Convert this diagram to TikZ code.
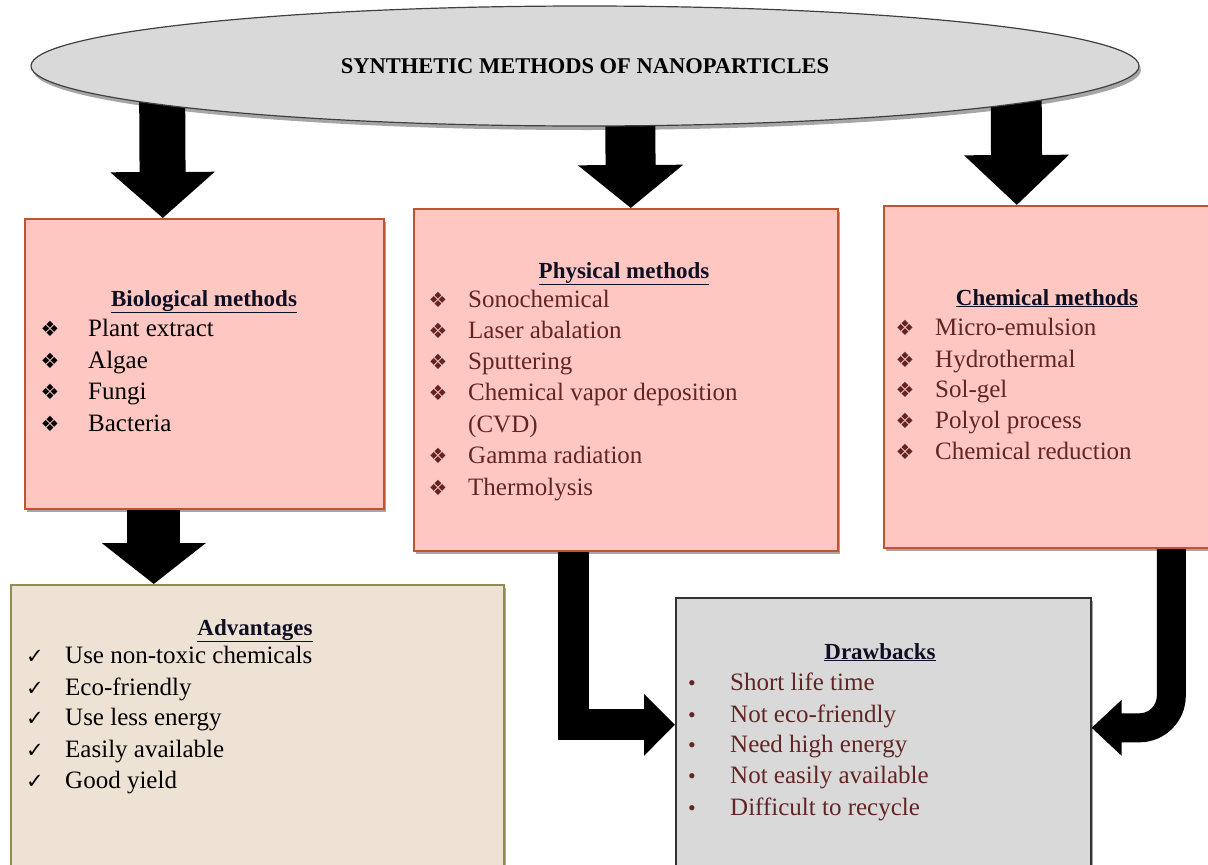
\documentclass[tikz,border=0pt]{standalone}
\usepackage{fontspec}
\setmainfont{Liberation Serif}
\newfontfamily\dejavu{DejaVu Sans}
\usetikzlibrary{shapes.geometric,arrows.meta,shadows}
\definecolor{pinkfill}{RGB}{255,199,194}
\definecolor{pinkline}{RGB}{192,84,50}
\definecolor{ellfill}{RGB}{217,217,217}
\definecolor{ellline}{RGB}{64,64,64}
\definecolor{advfill}{RGB}{238,226,212}
\definecolor{advline}{RGB}{148,138,84}
\definecolor{drwfill}{RGB}{217,217,217}
\definecolor{drwline}{RGB}{50,50,50}
\definecolor{txtbrown}{RGB}{99,37,35}
\definecolor{headcol}{RGB}{15,15,35}
\pgfdeclarelayer{bg}
\pgfsetlayers{bg,main}
\begin{document}
\begin{tikzpicture}[x=1pt,y=-1pt,
  box/.style={draw, line width=1.6pt, anchor=north west, inner sep=0pt,
    drop shadow={shadow xshift=2.5pt, shadow yshift=-3pt, opacity=0.35, fill=black}},
  pinkbox/.style={box, fill=pinkfill, draw=pinkline},
  itm/.style={anchor=base west, inner sep=0pt, font=\fontsize{25}{30}\selectfont},
  hd/.style={anchor=base, inner sep=0pt, text=headcol, font=\bfseries\fontsize{23}{28}\selectfont},
  diam/.style={anchor=base, inner sep=0pt, font=\dejavu\fontsize{21}{24}\selectfont},
  chk/.style={anchor=base, inner sep=0pt, font=\dejavu\fontsize{21}{24}\selectfont},
  dot/.style={anchor=base, inner sep=0pt, text=txtbrown, font=\fontsize{22}{24}\selectfont},
]
\useasboundingbox (0,0) rectangle (1208,865);

% main nodes
\node[ellipse, draw=ellline, fill=ellfill, line width=1.2pt, minimum width=1108pt, minimum height=120pt,
  drop shadow={shadow xshift=2pt, shadow yshift=-4pt, opacity=0.35, fill=black},
  font=\bfseries\fontsize{22.5}{26}\selectfont] (ell) at (585,66) {SYNTHETIC METHODS OF NANOPARTICLES};

\node[pinkbox, minimum width=359pt, minimum height=290pt] (bio) at (24,218) {};
\node[pinkbox, minimum width=424pt, minimum height=342pt] (phys) at (413,208) {};
\node[pinkbox, minimum width=332pt, minimum height=342pt] (chem) at (883,205) {};
\node[box, fill=advfill, draw=advline, minimum width=493pt, minimum height=290pt] (adv) at (10,584) {};
\node[box, fill=drwfill, draw=drwline, minimum width=415pt, minimum height=273pt] (drw) at (675,597) {};

% arrows
\begin{pgfonlayer}{bg}
\fill[white] (0,0) rectangle (1208,865);
\draw[line width=46pt, -{Triangle[width=102pt,length=46pt]}] ([xshift=-423pt]ell.center) -- ([xshift=-41.5pt]bio.north);
\draw[line width=50pt, -{Triangle[width=103pt,length=43pt]}] ([xshift=45pt]ell.center) -- ([xshift=5pt]phys.north);
\draw[line width=51pt, -{Triangle[width=102pt,length=50pt]}] ([xshift=431pt]ell.center) -- ([xshift=-33pt]chem.north);
\draw[line width=53pt, -{Triangle[width=102pt,length=41pt]}] ([xshift=-50.5pt,yshift=5pt]bio.south) -- ([xshift=-103.5pt]adv.north);
\draw[line width=31pt, line join=miter, -{Triangle[width=60pt,length=31pt]}] ([xshift=-52pt,yshift=5pt]phys.south) |- ([yshift=9.5pt]drw.west);
\draw[line width=29pt, rounded corners=32pt, -{Triangle[width=54pt,length=30pt]}] ([xshift=121.5pt,yshift=5pt]chem.south) |- ([yshift=6.5pt]drw.east);
\end{pgfonlayer}

% Biological
\node[hd] (bio-h) at (204,306) {\underline{Biological methods}};
\foreach \t/\y [count=\i] in {Plant extract/336, Algae/368, Fungi/399, Bacteria/431}{
  \node[diam] (bio-b\i) at (50,\y) {❖};
  \node[itm] (bio-t\i) at (88,\y) {\t};
}

% Physical
\node[hd] (phys-h) at (624,278) {\underline{Physical methods}};
\foreach \t/\y [count=\i] in {Sonochemical/307, Laser abalation/338, Sputtering/369, Chemical vapor deposition/400, Gamma radiation/463, Thermolysis/495}{
  \node[diam, text=txtbrown] (phys-b\i) at (438,\y) {❖};
  \node[itm, text=txtbrown] (phys-t\i) at (468,\y) {\t};
}
\node[itm, text=txtbrown] (phys-cvd) at (468,432) {(CVD)};

% Chemical
\node[hd] (chem-h) at (1047,305) {\underline{Chemical methods}};
\foreach \t/\y [count=\i] in {Micro-emulsion/335, Hydrothermal/367, Sol-gel/397, Polyol process/428, Chemical reduction/459}{
  \node[diam, text=txtbrown] (chem-b\i) at (905,\y) {❖};
  \node[itm, text=txtbrown] (chem-t\i) at (935,\y) {\t};
}

% Advantages
\node[hd] (adv-h) at (255,635) {\underline{Advantages}};
\foreach \t/\y [count=\i] in {Use non-toxic chemicals/663, Eco-friendly/695, Use less energy/725, Easily available/757, Good yield/788}{
  \node[chk] (adv-b\i) at (35,\y) {✓};
  \node[itm] (adv-t\i) at (65,\y) {\t};
}

% Drawbacks
\node[hd] (drw-h) at (880,659) {\underline{Drawbacks}};
\foreach \t/\y [count=\i] in {Short life time/690, Not eco-friendly/722, Need high energy/752, Not easily available/783, Difficult to recycle/815}{
  \node[dot] (drw-b\i) at (692,\y) {•};
  \node[itm, text=txtbrown] (drw-t\i) at (730,\y) {\t};
}
\end{tikzpicture}
\end{document}
